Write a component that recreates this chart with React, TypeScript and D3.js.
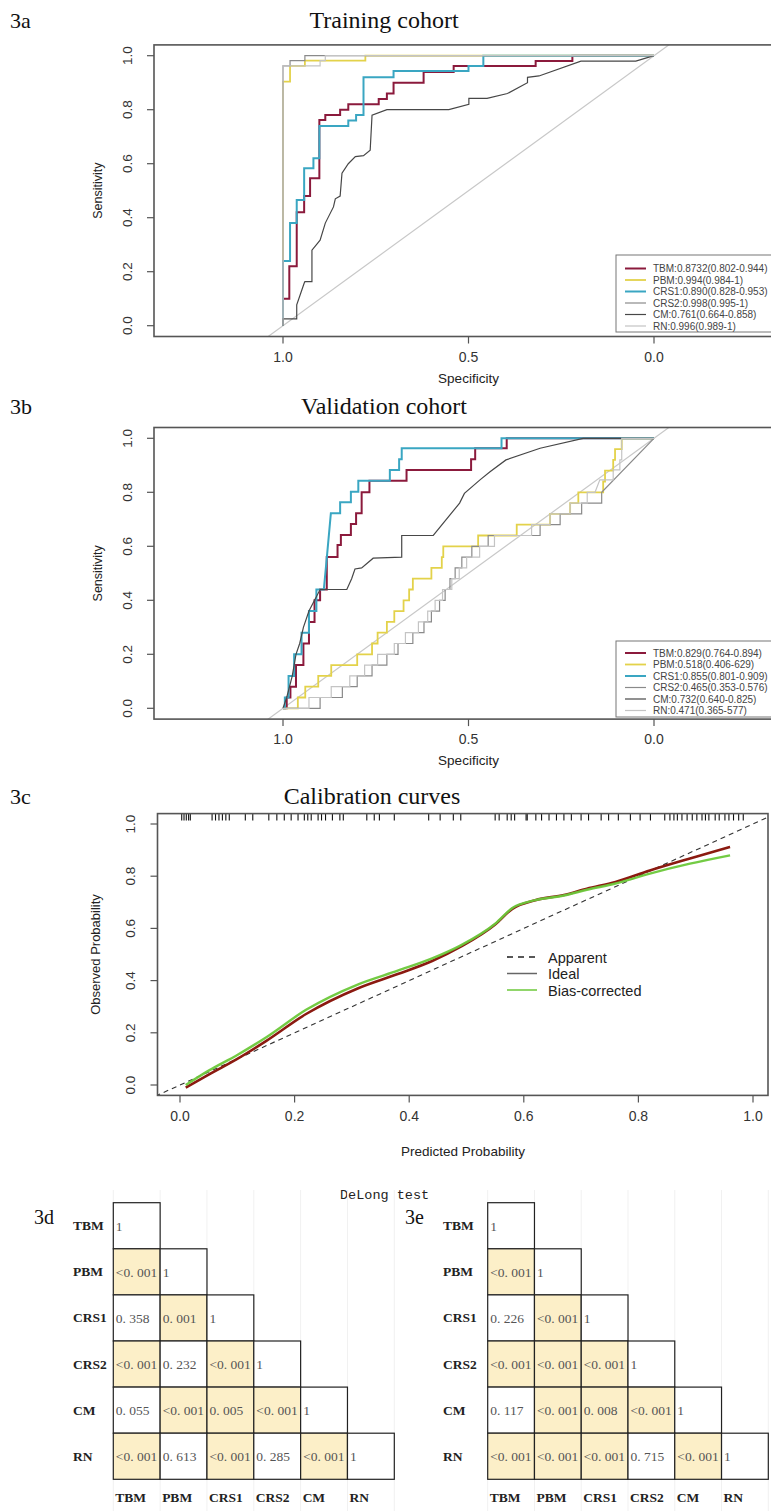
import * as d3 from "d3";

// ROC points are [specificity, sensitivity]
const models = ["TBM", "PBM", "CRS1", "CRS2", "CM", "RN"];
const rocColors = ["#8b1a3c", "#e3d24a", "#3aa6c2", "#8a8a8a", "#474747", "#c4c4c4"];
const rocWidths = [2, 1.8, 2, 1.2, 1.2, 1.2];

const trainTBM: [number, number][] = [[1, 0], [1, 0.1], [0.983, 0.1], [0.983, 0.22], [0.963, 0.22], [0.963, 0.42], [0.943, 0.42], [0.943, 0.48], [0.927, 0.48], [0.927, 0.546], [0.902, 0.546], [0.902, 0.762], [0.886, 0.762], [0.886, 0.78], [0.846, 0.78], [0.846, 0.8], [0.824, 0.8], [0.824, 0.82], [0.742, 0.82], [0.742, 0.84], [0.72, 0.84], [0.72, 0.86], [0.702, 0.86], [0.702, 0.9], [0.621, 0.9], [0.621, 0.94], [0.54, 0.94], [0.54, 0.962], [0.319, 0.962], [0.319, 0.98], [0.22, 0.98], [0.22, 1], [0, 1]];
const trainPBM: [number, number][] = [[1, 0], [1, 0.904], [0.981, 0.904], [0.981, 0.962], [0.941, 0.962], [0.941, 0.982], [0.778, 0.982], [0.778, 1], [0, 1]];
const trainCRS1: [number, number][] = [[1, 0], [1, 0.24], [0.981, 0.24], [0.981, 0.38], [0.963, 0.38], [0.963, 0.466], [0.943, 0.466], [0.943, 0.583], [0.918, 0.583], [0.918, 0.62], [0.902, 0.62], [0.902, 0.74], [0.824, 0.74], [0.824, 0.76], [0.803, 0.76], [0.803, 0.78], [0.783, 0.78], [0.783, 0.92], [0.702, 0.92], [0.702, 0.943], [0.5, 0.943], [0.5, 0.962], [0.46, 0.962], [0.46, 1], [0, 1]];
const trainCRS2: [number, number][] = [[1, 0], [1, 0.962], [0.981, 0.962], [0.981, 0.982], [0.941, 0.982], [0.941, 1], [0, 1]];
const trainCM: [number, number][] = [[1, 0], [1, 0.025], [0.963, 0.025], [0.963, 0.077], [0.943, 0.157], [0.941, 0.163], [0.922, 0.163], [0.922, 0.28], [0.9, 0.317], [0.886, 0.38], [0.864, 0.44], [0.859, 0.47], [0.846, 0.48], [0.841, 0.565], [0.824, 0.6], [0.805, 0.626], [0.783, 0.63], [0.765, 0.65], [0.76, 0.78], [0.72, 0.8], [0.553, 0.8], [0.499, 0.82], [0.499, 0.842], [0.45, 0.842], [0.395, 0.86], [0.341, 0.9], [0.341, 0.92], [0.31, 0.925], [0.197, 0.98], [0.049, 0.98], [0, 1]];
const trainRN: [number, number][] = [[1, 0], [1, 0.962], [0.9, 0.962], [0.9, 0.982], [0.886, 0.982], [0.886, 1], [0, 1]];

const validTBM: [number, number][] = [[1, 0], [0.99, 0], [0.99, 0.04], [0.98, 0.04], [0.98, 0.08], [0.965, 0.08], [0.965, 0.16], [0.945, 0.16], [0.945, 0.24], [0.93, 0.24], [0.93, 0.32], [0.915, 0.32], [0.915, 0.4], [0.9, 0.4], [0.9, 0.44], [0.882, 0.44], [0.882, 0.56], [0.853, 0.56], [0.853, 0.605], [0.844, 0.605], [0.844, 0.642], [0.817, 0.642], [0.817, 0.683], [0.803, 0.683], [0.803, 0.722], [0.788, 0.722], [0.788, 0.8], [0.767, 0.8], [0.767, 0.843], [0.667, 0.843], [0.667, 0.883], [0.493, 0.883], [0.493, 0.922], [0.482, 0.922], [0.482, 0.963], [0.397, 0.963], [0.397, 1], [0, 1]];
const validPBM: [number, number][] = [[1, 0], [0.96, 0], [0.96, 0.04], [0.94, 0.04], [0.94, 0.08], [0.905, 0.08], [0.905, 0.12], [0.87, 0.12], [0.87, 0.16], [0.8, 0.16], [0.8, 0.2], [0.76, 0.2], [0.76, 0.24], [0.745, 0.24], [0.745, 0.28], [0.72, 0.28], [0.72, 0.32], [0.7, 0.32], [0.7, 0.36], [0.675, 0.36], [0.675, 0.4], [0.66, 0.4], [0.66, 0.44], [0.65, 0.44], [0.65, 0.48], [0.6, 0.48], [0.6, 0.52], [0.572, 0.52], [0.572, 0.56], [0.568, 0.56], [0.568, 0.6], [0.474, 0.6], [0.474, 0.64], [0.37, 0.64], [0.37, 0.68], [0.28, 0.68], [0.28, 0.72], [0.226, 0.72], [0.226, 0.76], [0.204, 0.76], [0.204, 0.8], [0.137, 0.8], [0.137, 0.84], [0.132, 0.84], [0.132, 0.88], [0.11, 0.88], [0.11, 0.92], [0.105, 0.92], [0.105, 0.96], [0.087, 0.96], [0.087, 1], [0, 1]];
const validCRS1: [number, number][] = [[1, 0], [0.995, 0], [0.995, 0.04], [0.985, 0.04], [0.985, 0.12], [0.97, 0.12], [0.97, 0.2], [0.95, 0.2], [0.95, 0.28], [0.93, 0.28], [0.93, 0.36], [0.91, 0.36], [0.91, 0.44], [0.89, 0.44], [0.882, 0.556], [0.871, 0.722], [0.846, 0.722], [0.846, 0.763], [0.817, 0.763], [0.817, 0.802], [0.797, 0.802], [0.797, 0.843], [0.712, 0.843], [0.712, 0.883], [0.687, 0.883], [0.687, 0.922], [0.68, 0.922], [0.68, 0.963], [0.411, 0.963], [0.411, 1], [0, 1]];
const validCRS2: [number, number][] = [[1, 0], [0.9, 0], [0.9, 0.04], [0.84, 0.04], [0.84, 0.08], [0.8, 0.08], [0.8, 0.12], [0.76, 0.12], [0.76, 0.16], [0.72, 0.16], [0.72, 0.2], [0.69, 0.2], [0.69, 0.24], [0.65, 0.24], [0.65, 0.28], [0.62, 0.28], [0.62, 0.32], [0.6, 0.32], [0.6, 0.36], [0.578, 0.36], [0.578, 0.4], [0.563, 0.4], [0.563, 0.44], [0.55, 0.44], [0.55, 0.48], [0.536, 0.48], [0.536, 0.52], [0.518, 0.52], [0.518, 0.56], [0.491, 0.56], [0.491, 0.6], [0.447, 0.6], [0.447, 0.64], [0.307, 0.64], [0.307, 0.68], [0.253, 0.68], [0.253, 0.72], [0.195, 0.72], [0.195, 0.76], [0.141, 0.76], [0.141, 0.8], [0, 1]];
const validCM: [number, number][] = [[1, 0], [0.99, 0.04], [0.975, 0.12], [0.965, 0.2], [0.955, 0.24], [0.945, 0.3], [0.93, 0.36], [0.915, 0.4], [0.9, 0.44], [0.828, 0.44], [0.815, 0.48], [0.806, 0.516], [0.788, 0.52], [0.757, 0.556], [0.68, 0.56], [0.68, 0.64], [0.595, 0.64], [0.524, 0.76], [0.511, 0.796], [0.469, 0.846], [0.442, 0.876], [0.399, 0.92], [0.307, 0.963], [0.191, 1], [0, 1]];
const validRN: [number, number][] = [[1, 0], [0.93, 0], [0.93, 0.04], [0.87, 0.04], [0.87, 0.08], [0.82, 0.08], [0.82, 0.12], [0.78, 0.12], [0.78, 0.16], [0.745, 0.16], [0.745, 0.2], [0.7, 0.2], [0.7, 0.24], [0.67, 0.24], [0.67, 0.28], [0.635, 0.28], [0.635, 0.32], [0.61, 0.32], [0.61, 0.36], [0.59, 0.36], [0.59, 0.4], [0.57, 0.4], [0.57, 0.44], [0.545, 0.44], [0.545, 0.48], [0.525, 0.48], [0.525, 0.52], [0.505, 0.52], [0.505, 0.56], [0.47, 0.56], [0.47, 0.6], [0.43, 0.6], [0.43, 0.64], [0.33, 0.64], [0.33, 0.68], [0.28, 0.68], [0.28, 0.72], [0.226, 0.72], [0.226, 0.76], [0.18, 0.76], [0.18, 0.8], [0.159, 0.8], [0.146, 0.846], [0.11, 0.846], [0.11, 0.883], [0.092, 0.883], [0.092, 0.92], [0.087, 0.92], [0.087, 1], [0, 1]];

const trainLegend = ["TBM:0.8732(0.802-0.944)", "PBM:0.994(0.984-1)", "CRS1:0.890(0.828-0.953)", "CRS2:0.998(0.995-1)", "CM:0.761(0.664-0.858)", "RN:0.996(0.989-1)"];
const validLegend = ["TBM:0.829(0.764-0.894)", "PBM:0.518(0.406-629)", "CRS1:0.855(0.801-0.909)", "CRS2:0.465(0.353-0.576)", "CM:0.732(0.640-0.825)", "RN:0.471(0.365-577)"];

const specTicks = [1, 0.5, 0];
const unitTicks = [0, 0.2, 0.4, 0.6, 0.8, 1];

// calibration
const calX = [0.01, 0.05, 0.1, 0.15, 0.22, 0.31, 0.38, 0.44, 0.49, 0.55, 0.58, 0.62, 0.67, 0.71, 0.76, 0.82, 0.89, 0.96];
const calApparent = [-0.01, 0.04, 0.1, 0.168, 0.272, 0.37, 0.425, 0.475, 0.53, 0.615, 0.675, 0.708, 0.728, 0.752, 0.778, 0.822, 0.868, 0.912];
const calBias = [0.0, 0.055, 0.115, 0.182, 0.288, 0.385, 0.438, 0.485, 0.535, 0.618, 0.678, 0.708, 0.726, 0.748, 0.772, 0.81, 0.848, 0.88];
const rugValues = [0.003, 0.007, 0.011, 0.015, 0.018, 0.056, 0.062, 0.068, 0.074, 0.08, 0.086, 0.114, 0.127, 0.155, 0.169, 0.182, 0.194, 0.206, 0.217, 0.223, 0.229, 0.241, 0.247, 0.254, 0.266, 0.279, 0.285, 0.326, 0.339, 0.348, 0.374, 0.434, 0.454, 0.477, 0.49, 0.55, 0.557, 0.571, 0.578, 0.584, 0.604, 0.606, 0.621, 0.631, 0.644, 0.657, 0.67, 0.683, 0.7, 0.713, 0.735, 0.748, 0.765, 0.786, 0.803, 0.821, 0.846, 0.855, 0.862, 0.868, 0.876, 0.885, 0.894, 0.902, 0.911, 0.917, 0.923, 0.934, 0.941, 0.951, 0.958, 0.966, 0.975, 0.983];
const calLegend = ["Apparent", "Ideal", "Bias-corrected"];

// DeLong p values, lower triangle
const delongTrain = [
  ["1"],
  ["<0. 001", "1"],
  ["0. 358", "0. 001", "1"],
  ["<0. 001", "0. 232", "<0. 001", "1"],
  ["0. 055", "<0. 001", "0. 005", "<0. 001", "1"],
  ["<0. 001", "0. 613", "<0. 001", "0. 285", "<0. 001", "1"],
];
const delongValid = [
  ["1"],
  ["<0. 001", "1"],
  ["0. 226", "<0. 001", "1"],
  ["<0. 001", "<0. 001", "<0. 001", "1"],
  ["0. 117", "<0. 001", "0. 008", "<0. 001", "1"],
  ["<0. 001", "<0. 001", "<0. 001", "0. 715", "<0. 001", "1"],
];

const SANS = "'Liberation Sans', Arial, sans-serif";
const SERIF = "'Liberation Serif', 'Times New Roman', serif";
const AX = "#555";

function isSignificant(v: string) {
  if (v === "1") return false;
  if (v.startsWith("<")) return true;
  return parseFloat(v.replace(/\s/g, "")) < 0.05;
}

type RocProps = {
  id: string;
  label: string;
  title: string;
  titleY: number;
  boxTop: number;
  boxBottom: number;
  y0: number;
  y1: number;
  series: [number, number][][];
  legend: string[];
  legendTop: number;
  legendBottom: number;
  legendFirst: number;
};

function RocPanel(p: RocProps) {
  const left = 154;
  const right = 800;
  const x = d3.scaleLinear().domain([1, 0]).range([283, 654]);
  const y = d3.scaleLinear().domain([0, 1]).range([p.y0, p.y1]);
  const line = d3.line<[number, number]>().x((d) => x(d[0])).y((d) => y(d[1]));
  const legLeft = 616;
  return (
    <g>
      <text x={10} y={p.titleY} fontFamily={SERIF} fontSize={22} fill="#111">{p.label}</text>
      <text x={384} y={p.titleY} fontFamily={SERIF} fontSize={24} textAnchor="middle" fill="#111">{p.title}</text>
      <clipPath id={p.id}>
        <rect x={left} y={p.boxTop} width={right - left} height={p.boxBottom - p.boxTop} />
      </clipPath>
      <g clipPath={`url(#${p.id})`}>
        <line x1={x(1.2)} y1={y(-0.2)} x2={x(-0.2)} y2={y(1.2)} stroke="#c8c8c8" strokeWidth={1.2} />
        {p.series.map((s, i) => (
          <path key={i} d={line(s) || ""} fill="none" stroke={rocColors[i]} strokeWidth={rocWidths[i]} />
        ))}
      </g>
      <rect x={left} y={p.boxTop} width={right - left} height={p.boxBottom - p.boxTop} fill="none" stroke={AX} strokeWidth={1.6} />
      {unitTicks.map((t) => (
        <g key={t}>
          <line x1={left} x2={left - 7} y1={y(t)} y2={y(t)} stroke={AX} strokeWidth={1.2} />
          <text transform={`translate(131.5,${y(t)}) rotate(-90)`} textAnchor="middle" fontFamily={SANS} fontSize={13.5} fill="#333">{t.toFixed(1)}</text>
        </g>
      ))}
      {specTicks.map((t) => (
        <g key={t}>
          <line x1={x(t)} x2={x(t)} y1={p.boxBottom} y2={p.boxBottom + 7} stroke={AX} strokeWidth={1.2} />
          <text x={x(t)} y={p.boxBottom + 25} textAnchor="middle" fontFamily={SANS} fontSize={14} fill="#333">{t.toFixed(1)}</text>
        </g>
      ))}
      <text x={(x(1) + x(0)) / 2} y={p.boxBottom + 46} textAnchor="middle" fontFamily={SANS} fontSize={13.5} fill="#222">Specificity</text>
      <text transform={`translate(102,${(p.y0 + p.y1) / 2}) rotate(-90)`} textAnchor="middle" fontFamily={SANS} fontSize={12.5} fill="#222">Sensitivity</text>
      <rect x={legLeft} y={p.legendTop} width={200} height={p.legendBottom - p.legendTop} fill="#fff" stroke="#777" strokeWidth={1} />
      {p.legend.map((l, i) => {
        const ly = p.legendFirst + i * 11.5;
        return (
          <g key={l}>
            <line x1={legLeft + 9} x2={legLeft + 30} y1={ly} y2={ly} stroke={rocColors[i]} strokeWidth={rocWidths[i]} />
            <text x={legLeft + 37} y={ly + 3.5} fontFamily={SANS} fontSize={10} fill="#444">{l}</text>
          </g>
        );
      })}
    </g>
  );
}

function Calibration() {
  const left = 157.5, right = 768, top = 813.6, bottom = 1095.4;
  const x = d3.scaleLinear().domain([0, 1]).range([180, 753]);
  const y = d3.scaleLinear().domain([0, 1]).range([1085, 824]);
  const app = d3.line<number>().x((_, i) => x(calX[i])).y((d) => y(d)).curve(d3.curveMonotoneX)(calApparent) || "";
  const bias = d3.line<number>().x((_, i) => x(calX[i])).y((d) => y(d)).curve(d3.curveMonotoneX)(calBias) || "";
  const legStyle = [
    { stroke: "#222", dash: "6,5", w: 1.6 },
    { stroke: "#666", dash: "", w: 1.5 },
    { stroke: "#6cc83a", dash: "", w: 1.5 },
  ];
  return (
    <g>
      <text x={10} y={804} fontFamily={SERIF} fontSize={22} fill="#111">3c</text>
      <text x={372} y={804} fontFamily={SERIF} fontSize={24} textAnchor="middle" fill="#111">Calibration curves</text>
      <clipPath id="calclip">
        <rect x={left} y={top} width={right - left} height={bottom - top} />
      </clipPath>
      <g clipPath="url(#calclip)">
        <line x1={x(-0.1)} y1={y(-0.1)} x2={x(1.1)} y2={y(1.1)} stroke="#333" strokeWidth={1.1} strokeDasharray="5,4" />
        <path d={app} fill="none" stroke="#8b1a10" strokeWidth={2.6} />
        <path d={bias} fill="none" stroke="#6cc83a" strokeWidth={2.4} opacity={0.95} />
        {rugValues.map((r, i) => (
          <line key={i} x1={x(r)} x2={x(r)} y1={top} y2={top + 7} stroke="#111" strokeWidth={1.1} />
        ))}
      </g>
      <rect x={left} y={top} width={right - left} height={bottom - top} fill="none" stroke={AX} strokeWidth={1.6} />
      {unitTicks.map((t) => (
        <g key={t}>
          <line x1={left} x2={left - 7} y1={y(t)} y2={y(t)} stroke={AX} strokeWidth={1.2} />
          <text transform={`translate(135,${y(t)}) rotate(-90)`} textAnchor="middle" fontFamily={SANS} fontSize={13.5} fill="#333">{t.toFixed(1)}</text>
          <line x1={x(t)} x2={x(t)} y1={bottom} y2={bottom + 7} stroke={AX} strokeWidth={1.2} />
          <text x={x(t)} y={bottom + 26} textAnchor="middle" fontFamily={SANS} fontSize={14} fill="#333">{t.toFixed(1)}</text>
        </g>
      ))}
      <text x={463} y={1156} textAnchor="middle" fontFamily={SANS} fontSize={13.5} fill="#222">Predicted Probability</text>
      <text transform={`translate(100,${(y(0) + y(1)) / 2}) rotate(-90)`} textAnchor="middle" fontFamily={SANS} fontSize={13} fill="#222">Observed Probability</text>
      {calLegend.map((l, i) => {
        const ly = 957 + i * 16.5;
        return (
          <g key={l}>
            <line x1={507} x2={537} y1={ly} y2={ly} stroke={legStyle[i].stroke} strokeWidth={legStyle[i].w} strokeDasharray={legStyle[i].dash} />
            <text x={548} y={ly + 5.5} fontFamily={SANS} fontSize={14.5} fill="#222">{l}</text>
          </g>
        );
      })}
    </g>
  );
}

function DeLongTable({ label, labelX, rowLabelX, x0, x1, data }: { label: string; labelX: number; rowLabelX: number; x0: number; x1: number; data: string[][] }) {
  const col = d3.scaleBand<string>().domain(models).range([x0, x1]);
  const row = d3.scaleBand<string>().domain(models).range([1202.7, 1479.3]);
  const bw = col.bandwidth();
  const bh = row.bandwidth();
  return (
    <g>
      {models.concat(["end"]).map((m, i) => (
        <line key={m} x1={x0 + i * bw} x2={x0 + i * bw} y1={1190} y2={1511} stroke="#f1f1f1" strokeWidth={1} />
      ))}
      <text x={labelX} y={1224} fontFamily={SERIF} fontSize={20} fill="#111">{label}</text>
      {models.map((m) => (
        <text key={m} x={rowLabelX} y={(row(m) || 0) + bh / 2 + 4.5} fontFamily={SERIF} fontWeight="bold" fontSize={13.5} fill="#222">{m}</text>
      ))}
      {models.map((m) => (
        <text key={m} x={(col(m) || 0) + 2} y={1502} fontFamily={SERIF} fontWeight="bold" fontSize={13.5} fill="#222">{m}</text>
      ))}
      {data.map((r, ri) =>
        r.map((v, ci) => {
          const cx = col(models[ci]) || 0;
          const cy = row(models[ri]) || 0;
          return (
            <g key={`${ri}-${ci}`}>
              <rect x={cx} y={cy} width={bw} height={bh} fill={isSignificant(v) ? "#fcefc8" : "#fff"} stroke="#222" strokeWidth={1.2} />
              <text x={cx + 2.5} y={cy + bh / 2 + 5} fontFamily={SERIF} fontSize={13.5} fill="#555">{v}</text>
            </g>
          );
        })
      )}
    </g>
  );
}

export default function App() {
  return (
    <svg width={771} height={1511} style={{ position: "absolute", left: 0, top: 0, background: "#fff" }}>
      <rect width={771} height={1511} fill="#fff" />
      <RocPanel
        id="clipA"
        label="3a"
        title="Training cohort"
        titleY={28}
        boxTop={44.9}
        boxBottom={336.5}
        y0={325.7}
        y1={55.7}
        series={[trainTBM, trainPBM, trainCRS1, trainCRS2, trainCM, trainRN]}
        legend={trainLegend}
        legendTop={255}
        legendBottom={332}
        legendFirst={268.5}
      />
      <RocPanel
        id="clipB"
        label="3b"
        title="Validation cohort"
        titleY={414}
        boxTop={427.5}
        boxBottom={719.1}
        y0={708.3}
        y1={438.3}
        series={[validTBM, validPBM, validCRS1, validCRS2, validCM, validRN]}
        legend={validLegend}
        legendTop={641}
        legendBottom={717}
        legendFirst={653}
      />
      <Calibration />
      <text x={340} y={1199} fontFamily="'Liberation Mono', 'DejaVu Sans Mono', monospace" fontSize={13.5} fill="#222">DeLong test</text>
      <DeLongTable label="3d" labelX={34} rowLabelX={73} x0={113.3} x1={394.3} data={delongTrain} />
      <DeLongTable label="3e" labelX={405} rowLabelX={443} x0={487.7} x1={768.3} data={delongValid} />
    </svg>
  );
}
